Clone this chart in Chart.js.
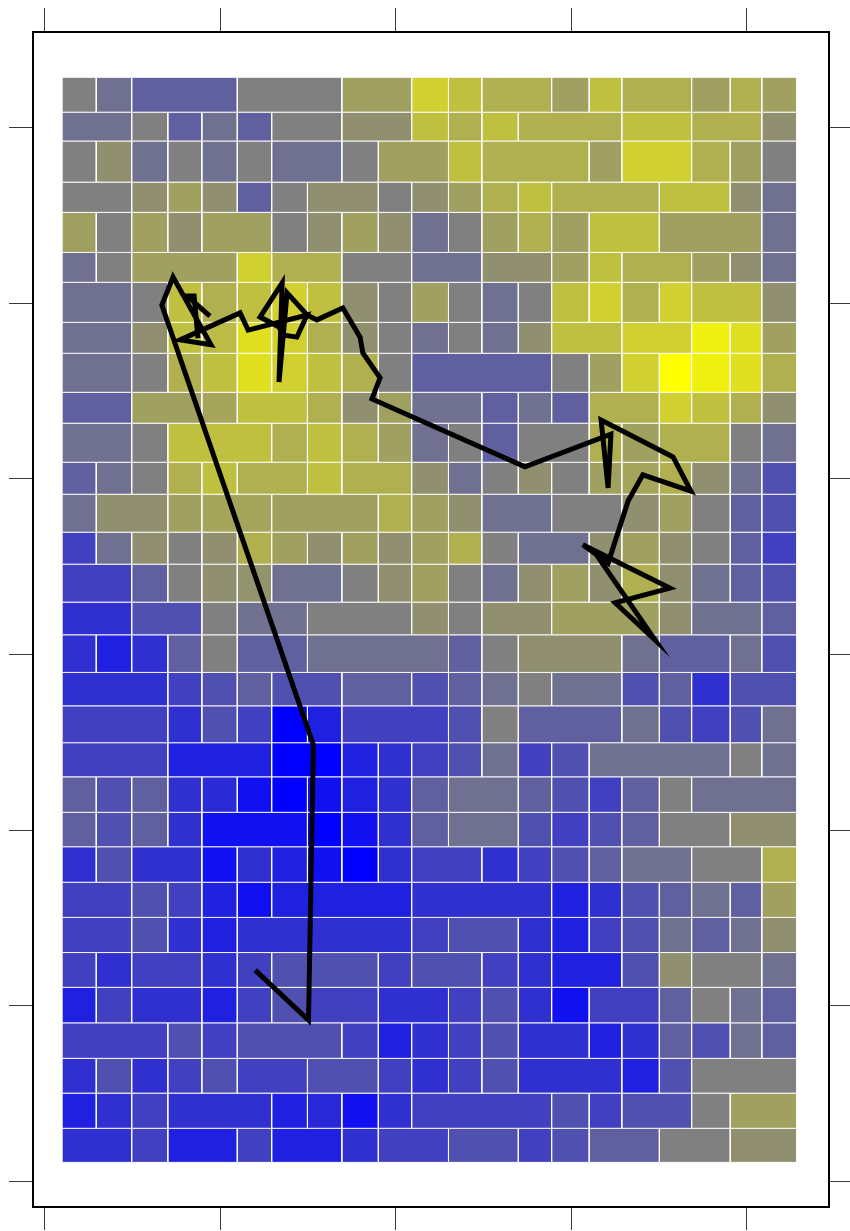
<!DOCTYPE html>
<html>
<head>
<meta charset="utf-8">
<title>Walk over a level grid</title>
<script src="https://cdn.jsdelivr.net/npm/chart.js@4.4.1/dist/chart.umd.min.js"></script>
<style>
  html, body { margin: 0; padding: 0; background: #ffffff; }
  canvas { display: block; }
</style>
</head>
<body>
<canvas id="chart" width="850" height="1231"></canvas>
<script>
// Column boundaries of the grid (axis units, left to right)
const xEdges = [0.49, 1.46, 2.47, 3.50, 4.47, 5.48, 6.46, 7.48, 8.46, 9.50, 10.45,
                11.50, 12.45, 13.49, 14.44, 15.51, 16.44, 17.51, 18.43, 19.53, 20.43, 21.43];

// Row boundaries of the grid (axis units, bottom to top)
const yEdges = [0.55, 1.52, 2.52, 3.51, 4.52, 5.53, 6.52, 7.52, 8.52, 9.53, 10.51,
                11.52, 12.49, 13.54, 14.49, 15.56, 16.49, 17.57, 18.48, 19.56, 20.47,
                21.58, 22.46, 23.57, 24.45, 25.59, 26.44, 27.58, 28.44, 29.61, 30.43, 31.42];

// Cell levels, one array per row, top row first (-8 blue, 0 gray, +8 yellow)
const levelRows = [
  [0,-1,-2,-2,-2,0,0,0,2,2,5,4,3,3,2,4,3,3,2,3,2],
  [-1,-1,0,-2,-1,-2,0,0,1,1,4,3,4,3,3,3,4,4,3,3,1],
  [0,1,-1,0,-1,0,-1,-1,0,2,2,4,3,3,3,2,5,5,3,2,0],
  [0,0,1,2,1,-2,0,1,1,0,1,2,3,4,3,3,3,4,4,1,-1],
  [2,0,2,1,2,2,0,1,2,1,-1,0,2,3,2,4,4,2,2,2,-1],
  [-1,0,2,2,2,5,3,3,0,0,-1,-1,1,1,2,4,3,3,2,1,-1],
  [-1,-1,0,4,3,4,5,4,1,0,2,0,-1,0,4,5,3,5,4,4,1],
  [-1,-1,1,4,3.7,6,5,3,1,0,-1,0,-1,1,4,4,5,5,7,6,2],
  [-1,-1,0,3,4,6,5,4,3,0,-2,-2,-2,-2,0,2,5,8,7,6,3],
  [-2,-2,2,2,2.3,4,4,3,1,2,-1,-1,-2,-1,-2,3,3,5,4,3,1],
  [-1,-1,0,4,4,4,3,4,3,2,-1,0,-2,0,0,3,2,3,3,0,-1],
  [-2,-1,0,3,4,3,3,4,3,3,1,-1,0,1,0,2,2.3,3,1,-1,-3],
  [-1,1,1,2,2.3,2.3,2,2,2,3,2,1,-1,-1,0,0,1,2,0,-2,-3],
  [-4,-1,1,0,1,3,2,1,2,1,2,3,0,-1,-1,1,2,1,0,-2,-4],
  [-4,-4,-2,0,1,1.2,-1,-1,0,1,2,0,-1,1,2,1,3,1,-1,-2,-3],
  [-5,-5,-3,-3,0,-1,-1,0,0,0,1,0,1,1,2,2,2,1,-1,-1,-2],
  [-5,-6,-5,-2,0,-2,-2,-1,-1,-1,-1,-2,0,1,1,1,-1,-2,-2,-1,-3],
  [-5,-5,-5,-4,-3,-2,-3,-3,-2,-2,-3,-2,-1,0,-1,-1,-3,-2,-5,-3,-3],
  [-4,-4,-4,-5,-3,-4,-8,-6,-4,-4,-4,-3,0,-2,-2,-2,-1,-3,-4,-3,-1],
  [-4,-4,-4,-6,-6,-6,-8,-8,-6,-5,-4,-3,-1,-4,-3,-1,-1,-1,-1,0,-1],
  [-2,-3,-2,-5,-5.4,-7,-8,-7,-6,-5,-2,-1,-1,-2,-3,-4,-2,0,-1,-1,-1],
  [-2,-3,-2,-5,-7,-7,-7,-8,-7,-5,-2,-1,-1,-3,-4,-3,-2,0,0,1,1],
  [-5,-3,-5,-5,-7,-5,-6,-7,-8,-5,-4,-4,-5,-4,-3,-2,-1,-1,0,0,3],
  [-4,-4,-3,-4,-6,-7,-6,-6,-6,-6,-5,-5,-5,-5,-6,-5,-3,-2,-1,-2,2],
  [-4,-4,-3,-5,-6,-5,-5,-5,-5,-5,-4,-3,-3,-5,-6,-4,-3,-1,-2,-1,1],
  [-4,-5,-4,-4,-5,-4,-3,-3,-3,-4,-3,-3,-4,-5,-6,-6,-3,1,0,0,-1],
  [-6,-4,-5,-5,-6,-4,-3,-4,-4,-5,-5,-4,-3,-5,-7,-4,-4,-2,0,-1,-2],
  [-4,-4,-4,-3,-4,-3,-3,-3,-4,-6,-5,-4,-3,-5,-5,-6,-5,-2,-3,-1,-2],
  [-5,-3,-5,-4,-3,-4,-4,-3,-3,-4,-5,-4,-3,-5,-5,-5,-6,-3,0,0,0],
  [-6,-5,-4,-5,-5,-5,-6,-5.5,-7,-5,-4,-4,-4,-4,-3,-4,-3,-3,0,2,2],
  [-5,-5,-4,-6,-6,-4,-6,-6,-5,-4,-4,-3,-3,-4,-3,-2,-2,0,0,1,1]
];

// Vertices of the walk, in order
const walkX = [5.99, 7.51, 7.65, 3.33, 3.65, 4.73, 3.85, 5.56, 5.79, 7.47, 7.18, 6.78, 6.67,
               6.13, 6.76, 6.67, 6.90, 7.47, 7.75, 8.49, 8.98, 9.06, 9.55, 9.32, 13.68, 16.13,
               16.05, 15.85, 17.90, 18.41, 17.04, 16.62, 16.05, 15.33, 17.81, 16.25, 17.39, 15.68];
const walkY = [6.02, 4.60, 12.43, 24.94, 25.74, 23.81, 23.95, 24.72, 24.23, 24.66, 24.03, 24.09, 24.32,
               24.60, 25.57, 22.75, 25.29, 24.66, 24.52, 24.86, 24.03, 23.58, 22.87, 22.27, 20.34, 21.27,
               19.74, 21.67, 20.62, 19.65, 20.11, 19.37, 17.60, 18.12, 16.89, 16.47, 15.41, 17.89];

// Short hooked stroke near the upper left of the walk
const hookX = [4.70, 4.05, 4.25, 4.36];
const hookY = [24.63, 25.20, 25.20, 24.00];

// Tick positions on the frame
const xTickValues = [0, 5, 10, 15, 20];
const yTickValues = [0, 5, 10, 15, 20, 25, 30];

// Axis limits
const xLimits = [-0.342, 22.346];
const yLimits = [-0.72, 32.711];

// Diverging blue - gray - yellow colour for a level
function levelColor(v) {
  const rg = Math.max(0, Math.min(255, Math.round(128 + 16 * v)));
  const b = Math.max(0, Math.min(255, Math.round(128 - 16 * v)));
  return 'rgb(' + rg + ',' + rg + ',' + b + ')';
}

// One closed rectangle per run of equal levels within a row
const cellDatasets = [];
const nRows = levelRows.length;
levelRows.forEach(function (vals, r) {
  const yTop = yEdges[nRows - r];
  const yBot = yEdges[nRows - r - 1];
  let c = 0;
  while (c < vals.length) {
    let e = c;
    while (e + 1 < vals.length && vals[e + 1] === vals[c]) e++;
    const x0 = xEdges[c];
    const x1 = xEdges[e + 1];
    cellDatasets.push({
      data: [
        {x: x0, y: yTop}, {x: x1, y: yTop}, {x: x1, y: yBot},
        {x: x0, y: yBot}, {x: x0, y: yTop}
      ],
      backgroundColor: levelColor(vals[c]),
      borderColor: 'rgba(255,255,255,0.9)',
      borderWidth: 1,
      borderJoinStyle: 'miter',
      fill: 'shape',
      pointRadius: 0,
      tension: 0,
      order: 2
    });
    c = e + 1;
  }
});

function toPoints(xs, ys) {
  return xs.map(function (x, i) { return {x: x, y: ys[i]}; });
}

const pathStyle = {
  borderColor: '#000000',
  borderWidth: 5,
  borderJoinStyle: 'miter',
  borderCapStyle: 'butt',
  fill: false,
  pointRadius: 0,
  tension: 0,
  order: 0
};

const datasets = [
  Object.assign({label: 'walk', data: toPoints(walkX, walkY)}, pathStyle),
  Object.assign({label: 'hook', data: toPoints(hookX, hookY)}, pathStyle)
].concat(cellDatasets);

function frameAxis(position, limits, tickValues, size, tickLength) {
  const horizontal = position === 'top' || position === 'bottom';
  return {
    type: 'linear',
    position: position,
    min: limits[0],
    max: limits[1],
    afterBuildTicks: function (scale) {
      scale.ticks = tickValues.map(function (v) { return {value: v}; });
    },
    afterFit: function (scale) {
      if (horizontal) { scale.height = size; } else { scale.width = size; }
    },
    ticks: {display: false},
    grid: {
      display: true,
      drawOnChartArea: false,
      drawTicks: true,
      tickLength: tickLength,
      color: '#3a3a3a',
      lineWidth: 1
    },
    border: {display: true, color: '#000000', width: 2}
  };
}

new Chart(document.getElementById('chart'), {
  type: 'line',
  data: {datasets: datasets},
  options: {
    responsive: false,
    animation: false,
    devicePixelRatio: 1,
    events: [],
    parsing: false,
    normalized: true,
    layout: {padding: 0},
    plugins: {
      legend: {display: false},
      tooltip: {enabled: false},
      title: {display: false}
    },
    scales: {
      x: frameAxis('bottom', xLimits, xTickValues, 24, 23),
      xTop: frameAxis('top', xLimits, xTickValues, 32, 24),
      y: frameAxis('left', yLimits, yTickValues, 33, 24),
      yRight: frameAxis('right', yLimits, yTickValues, 21, 21)
    }
  }
});
</script>
</body>
</html>
